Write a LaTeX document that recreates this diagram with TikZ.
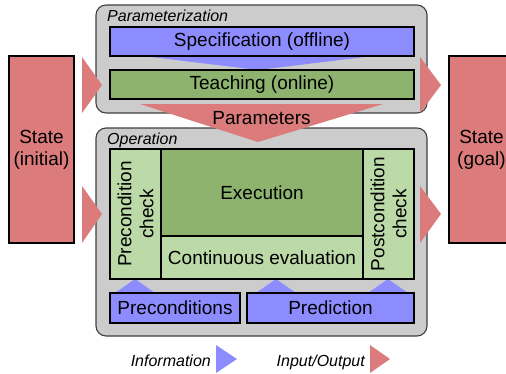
\documentclass[tikz,border=0pt]{standalone}
\usepackage{fontspec}
\setmainfont{Liberation Sans}
\definecolor{infoblue}{RGB}{140,140,255}
\definecolor{execgreen}{RGB}{141,179,110}
\definecolor{evalgreen}{RGB}{188,217,168}
\definecolor{iopink}{RGB}{219,123,123}
\definecolor{groupgray}{RGB}{204,204,204}
\newcommand\boxfont{\fontsize{19}{22}\selectfont}
\newcommand\tagfont{\fontsize{16}{18}\selectfont\itshape}
\begin{document}
\begin{tikzpicture}[x=1pt,y=-1pt,
  group/.style={draw=black!75, line width=1.1pt, fill=groupgray, rounded corners=10pt, inner sep=0pt},
  stepbox/.style={draw=black, line width=1.8pt, inner sep=0pt, font=\boxfont, align=center},
  iotip/.style={fill=iopink, draw=none},
  infotip/.style={fill=infoblue, draw=none},
  tag/.style={font=\tagfont, inner sep=0pt}]
\useasboundingbox (0,0) rectangle (506,373);

% grey group frames
\node[group, minimum width=331pt, minimum height=108pt] (param) at (261.5,59) {};
\node[group, minimum width=331pt, minimum height=208pt] (oper) at (261.5,232) {};
\node[tag, anchor=base west] (paramlbl) at (107,21) {Parameterization};
\node[tag, anchor=base west] (operlbl) at (107,144) {Operation};

% input/output wedges
\fill[iotip] (82,57) -- (82,113) -- (102,85) -- cycle;
\fill[iotip] (82,186) -- (82,243) -- (102,214) -- cycle;
\fill[iotip] (420,57) -- (420,113) -- (441,85) -- cycle;
\fill[iotip] (420,186) -- (420,243) -- (441,214) -- cycle;
\fill[iotip] (140,104) -- (383,104) -- (258,142) -- cycle;

% information wedges
\fill[infotip] (143,56) -- (373,56) -- (258,70) -- cycle;
\fill[infotip] (115,293) -- (155,293) -- (135,279) -- cycle;
\fill[infotip] (256,293) -- (296,293) -- (276,279) -- cycle;
\fill[infotip] (368,293) -- (408,293) -- (388,279) -- cycle;

% states
\node[stepbox, fill=iopink, minimum width=65pt, minimum height=187pt] (init) at (41.5,149.5) {State\\(initial)};
\node[stepbox, fill=iopink, minimum width=65pt, minimum height=187pt] (goal) at (481.5,149.5) {State\\(goal)};

% parameterization
\node[stepbox, fill=infoblue, minimum width=304pt, minimum height=29pt] (spec) at (262,41.5) {Specification (offline)};
\node[stepbox, fill=execgreen, minimum width=304pt, minimum height=29pt] (teach) at (262,84.5) {Teaching (online)};
\node[font=\boxfont, anchor=base, inner sep=0pt] (params) at (261.5,124) {Parameters};

% operation
\node[stepbox, fill=evalgreen, rotate=90, minimum width=130pt, minimum height=51pt] (precheck) at (135.5,214) {Precondition\\check};
\node[stepbox, fill=execgreen, minimum width=202pt, minimum height=87pt] (exec) at (262,192.5) {Execution};
\node[stepbox, fill=evalgreen, minimum width=202pt, minimum height=43pt] (evalc) at (262,257.5) {Continuous evaluation};
\node[stepbox, fill=evalgreen, rotate=90, minimum width=130pt, minimum height=51pt] (postcheck) at (388.5,214) {Postcondition\\check};
\node[stepbox, fill=infoblue, minimum width=130pt, minimum height=30pt] (precond) at (175,308) {Preconditions};
\node[stepbox, fill=infoblue, minimum width=167pt, minimum height=30pt] (predict) at (330.5,308) {Prediction};

% legend
\node[tag, anchor=base east] (infolbl) at (211,366) {Information};
\fill[infotip] (216,345) -- (216,373) -- (237,359) -- cycle;
\node[tag, anchor=base east] (iolbl) at (365,366) {Input/Output};
\fill[iotip] (370,345) -- (370,373) -- (390,359) -- cycle;
\end{tikzpicture}
\end{document}
